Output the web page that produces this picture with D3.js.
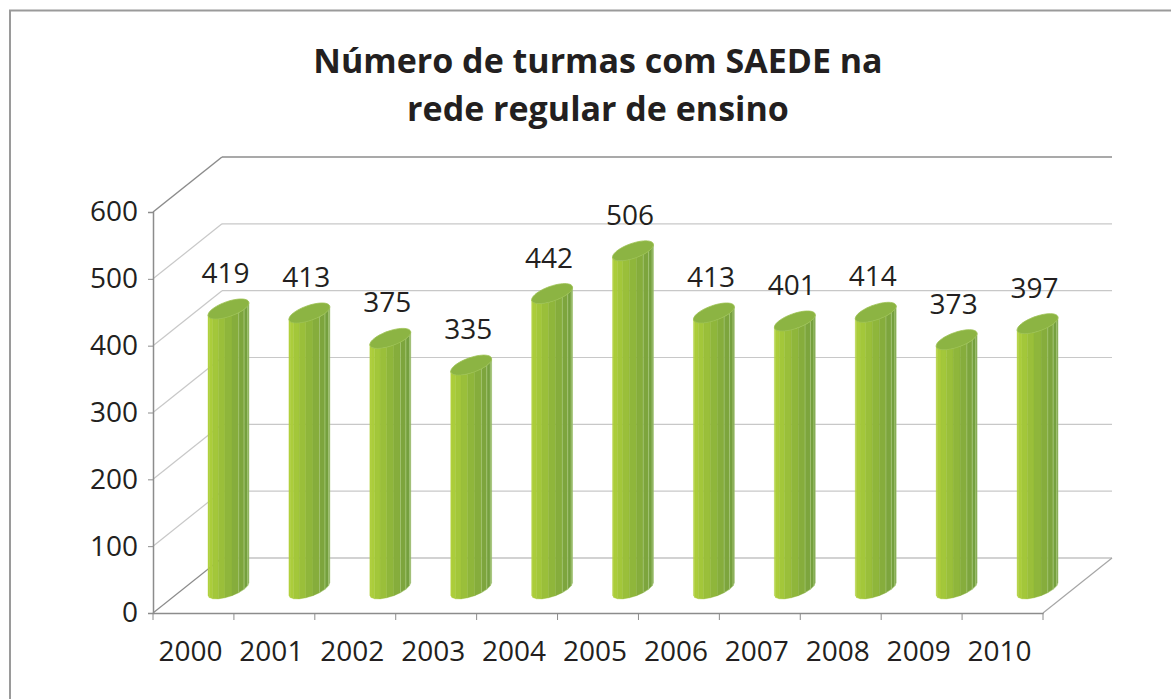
<!DOCTYPE html>
<meta charset="UTF-8">
<html lang="en">
<head><link rel="icon" href="data:,"></head>
<style>
body {
  margin: 0;
  background: #ffffff;
  font-family: "Open Sans", "DejaVu Sans", sans-serif;
}
</style>
<script src="https://unpkg.com/d3@7.0.1/dist/d3.min.js"></script>
<body>
<svg id="view"></svg>
</body>
<script>
const viewDims = { width: 1171, height: 699 };

// chart data
const years = ["2000", "2001", "2002", "2003", "2004", "2005", "2006", "2007", "2008", "2009", "2010"];
const turmas = [419, 413, 375, 335, 442, 506, 413, 401, 414, 373, 397];
const yTicks = [0, 100, 200, 300, 400, 500, 600];
const titleLines = ["Número de turmas com SAEDE na", "rede regular de ensino"];

// oblique depth of the 3d box
const depth = { dx: 69, dy: -55 };
// cylinder ellipse: x radius, depth vector
const cyl = { a: 16, b: 12.7, c: 10 };
const facetCols = ["#b2d23e", "#abcd3b", "#a3c73a", "#9abf3a", "#8fb63b", "#86ad3c", "#7da53d", "#75a03e", "#6f9a3e"];

const svg = d3.select("svg#view")
  .attr("width", viewDims.width)
  .attr("height", viewDims.height);

// outer chart border
svg.append("rect")
  .attr("x", 10).attr("y", 10.5)
  .attr("width", 1200).attr("height", 720)
  .attr("fill", "none")
  .attr("stroke", "#9a9a9a")
  .attr("stroke-width", 2);

const x = d3.scaleBand().domain(years).range([153, 1043]).padding(0);
const y = d3.scaleLinear().domain([0, 600]).range([613, 212]);

// title
svg.append("g")
  .selectAll("text")
  .data(titleLines)
  .enter()
  .append("text")
  .attr("x", 598)
  .attr("y", (d, i) => 73 + i * 48)
  .attr("text-anchor", "middle")
  .attr("font-size", "34px")
  .attr("font-weight", "bold")
  .attr("fill", "#231f20")
  .text(d => d);

const grid = svg.append("g").attr("id", "grid");
const x0 = x.range()[0], x1 = x.range()[1];

// back wall gridlines + side wall diagonals
yTicks.forEach(v => {
  const top = v === 600;
  grid.append("line")
    .attr("x1", x0 + depth.dx).attr("x2", x1 + depth.dx)
    .attr("y1", y(v) + depth.dy).attr("y2", y(v) + depth.dy)
    .attr("stroke", top ? "#8c8c8c" : (v === 0 ? "#a6a6a6" : "#c8c8c8"))
    .attr("stroke-width", top ? 1.5 : 1.2);
  grid.append("line")
    .attr("x1", x0).attr("x2", x0 + depth.dx)
    .attr("y1", y(v)).attr("y2", y(v) + depth.dy)
    .attr("stroke", top || v === 0 ? "#8c8c8c" : "#c8c8c8")
    .attr("stroke-width", top ? 1.5 : 1.2);
});

// floor right edge
grid.append("line")
  .attr("x1", x1).attr("y1", y(0))
  .attr("x2", x1 + depth.dx).attr("y2", y(0) + depth.dy)
  .attr("stroke", "#a6a6a6").attr("stroke-width", 1.2);

// cylinders
function ellPt(cx, cy, t){
  return [cx + cyl.a * Math.cos(t) + cyl.b * Math.sin(t), cy - cyl.c * Math.sin(t)];
}
const tR = Math.atan2(cyl.b, cyl.a);
const tL = tR - Math.PI;

const bars = svg.append("g").attr("id", "bars");
years.forEach((yr, i) => {
  const cx = x(yr) + x.bandwidth() / 2 + 35;
  const cyBot = y(0) - 24;
  const cyTop = y(turmas[i]) - 24;
  const g = bars.append("g");
  const n = facetCols.length;
  for(let k = 0; k < n; k++){
    const ta = tL + (tR - tL) * k / n;
    const tb = tL + (tR - tL) * (k + 1) / n;
    const p = [ellPt(cx, cyTop, ta), ellPt(cx, cyTop, tb), ellPt(cx, cyBot, tb), ellPt(cx, cyBot, ta)];
    g.append("path")
      .attr("d", d3.line()(p) + "Z")
      .attr("fill", facetCols[k])
      .attr("stroke", k >= n - 3 ? "#a9c97a" : facetCols[k])
      .attr("stroke-width", k >= n - 3 ? 0.6 : 0.4);
  }
  const topPts = d3.range(0, 49).map(j => ellPt(cx, cyTop, j / 48 * Math.PI * 2));
  g.append("path")
    .attr("d", d3.line()(topPts) + "Z")
    .attr("fill", "#8cb443")
    .attr("stroke", "#9cc252")
    .attr("stroke-width", 0.8);
});

// data labels
svg.append("g")
  .selectAll("text")
  .data(turmas)
  .enter()
  .append("text")
  .attr("x", (d, i) => x(years[i]) + x.bandwidth() / 2 + 32)
  .attr("y", d => y(d) - 24 - 26)
  .attr("text-anchor", "middle")
  .attr("font-size", "28px")
  .attr("fill", "#231f20")
  .text(d => d);

// y axis
const yAxis = d3.axisLeft(y).tickValues(yTicks).tickSize(5).tickPadding(10);
const ya = svg.append("g").attr("transform", `translate(${x0},0)`).call(yAxis);
ya.select(".domain").attr("stroke", "#8c8c8c").attr("stroke-width", 1.5);
ya.selectAll(".tick line").attr("stroke", "#8c8c8c");
ya.selectAll(".tick text")
  .attr("font-size", "28px")
  .attr("font-family", "'Open Sans', sans-serif")
  .attr("fill", "#231f20");

// x axis
const xAxis = d3.axisBottom(x).tickSize(0).tickPadding(28);
const xa = svg.append("g").attr("transform", `translate(0,${y(0)})`).call(xAxis);
xa.select(".domain").attr("stroke", "#8c8c8c").attr("stroke-width", 1.5);
xa.selectAll(".tick text")
  .attr("font-size", "28px")
  .attr("font-family", "'Open Sans', sans-serif")
  .attr("fill", "#231f20")
  .attr("dx", -3);
// boundary ticks between categories
xa.append("g")
  .selectAll("line")
  .data(d3.range(years.length + 1))
  .enter()
  .append("line")
  .attr("x1", i => x0 + i * x.bandwidth())
  .attr("x2", i => x0 + i * x.bandwidth())
  .attr("y1", 0).attr("y2", 7)
  .attr("stroke", "#8c8c8c");
</script>
</html>
